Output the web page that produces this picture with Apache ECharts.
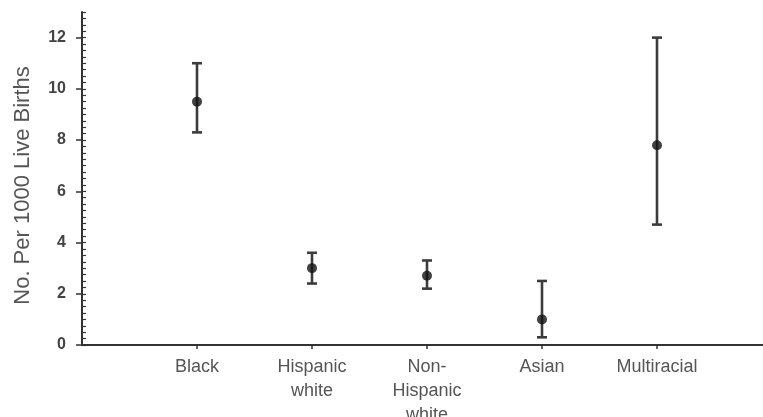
<!DOCTYPE html>
<html>
<head>
<meta charset="utf-8">
<script src="https://cdn.jsdelivr.net/npm/echarts@6/dist/echarts.min.js"></script>
<style>
html,body{margin:0;padding:0;background:#fff;}
#chart{width:763px;height:417px;}
</style>
</head>
<body>
<div id="chart"></div>
<script>
var categories = ['Black', 'Hispanic\nwhite', 'Non-\nHispanic\nwhite', 'Asian', 'Multiracial'];
var means = [9.5, 3.0, 2.7, 1.0, 7.8];
var lows = [8.3, 2.4, 2.2, 0.3, 4.7];
var highs = [11.0, 3.6, 3.3, 2.5, 12.0];
var yMajorTicks = [0, 2, 4, 6, 8, 10, 12];
var yAxisTitle = 'No. Per 1000 Live Births';

var axisCats = [''].concat(categories).concat(['']);
var font = 'Liberation Sans, Arial, sans-serif';
var axisColor = '#333';

var barData = categories.map(function (c, i) { return [c, lows[i], highs[i]]; });
var pointData = categories.map(function (c, i) { return [c, means[i]]; });

var chart = echarts.init(document.getElementById('chart'));
chart.setOption({
  animation: false,
  backgroundColor: '#fff',
  grid: { left: 82, top: 12, width: 690, height: 333, outerBoundsMode: 'none', containLabel: false },
  xAxis: {
    type: 'category',
    data: axisCats,
    boundaryGap: false,
    axisLine: { lineStyle: { color: axisColor, width: 2 } },
    axisTick: {
      length: 4,
      lineStyle: { color: axisColor, width: 1.5 },
      interval: function (idx, val) { return val !== ''; }
    },
    axisLabel: {
      interval: 0,
      margin: 10,
      color: '#555',
      fontFamily: font,
      fontSize: 18,
      lineHeight: 24
    },
    splitLine: { show: false }
  },
  yAxis: [{
    type: 'value',
    min: 0,
    max: 13,
    interval: 2,
    name: yAxisTitle,
    nameLocation: 'middle',
    nameGap: 48,
    nameTextStyle: { color: '#555', fontFamily: font, fontSize: 22, padding: [0, 14, 0, 0] },
    axisLine: { show: true, lineStyle: { color: axisColor, width: 2 } },
    axisTick: { show: true, length: 6, customValues: yMajorTicks, lineStyle: { color: axisColor, width: 1.5 } },
    axisLabel: { customValues: yMajorTicks, margin: 16, color: '#444', fontFamily: font, fontSize: 16, fontWeight: 'bold' },
    splitLine: { show: false }
  }, {
    type: 'value',
    min: 0,
    max: 13,
    interval: 0.25,
    position: 'left',
    axisLine: { show: false },
    axisTick: { show: true, inside: true, length: 4, lineStyle: { color: axisColor, width: 1.2 } },
    axisLabel: { show: false },
    splitLine: { show: false }
  }],
  series: [{
    type: 'custom',
    data: barData,
    renderItem: function (params, api) {
      var top = api.coord([api.value(0), api.value(2)]);
      var bot = api.coord([api.value(0), api.value(1)]);
      var x = top[0];
      var hw = 5;
      var st = { stroke: '#3c3c3c', lineWidth: 2.6 };
      return {
        type: 'group',
        children: [
          { type: 'line', shape: { x1: x, y1: top[1], x2: x, y2: bot[1] }, style: st },
          { type: 'line', shape: { x1: x - hw, y1: top[1], x2: x + hw, y2: top[1] }, style: st },
          { type: 'line', shape: { x1: x - hw, y1: bot[1], x2: x + hw, y2: bot[1] }, style: st }
        ]
      };
    },
    z: 2
  }, {
    type: 'scatter',
    data: pointData,
    symbol: 'circle',
    symbolSize: 10,
    itemStyle: { color: '#111' },
    z: 3
  }]
});
</script>
</body>
</html>
